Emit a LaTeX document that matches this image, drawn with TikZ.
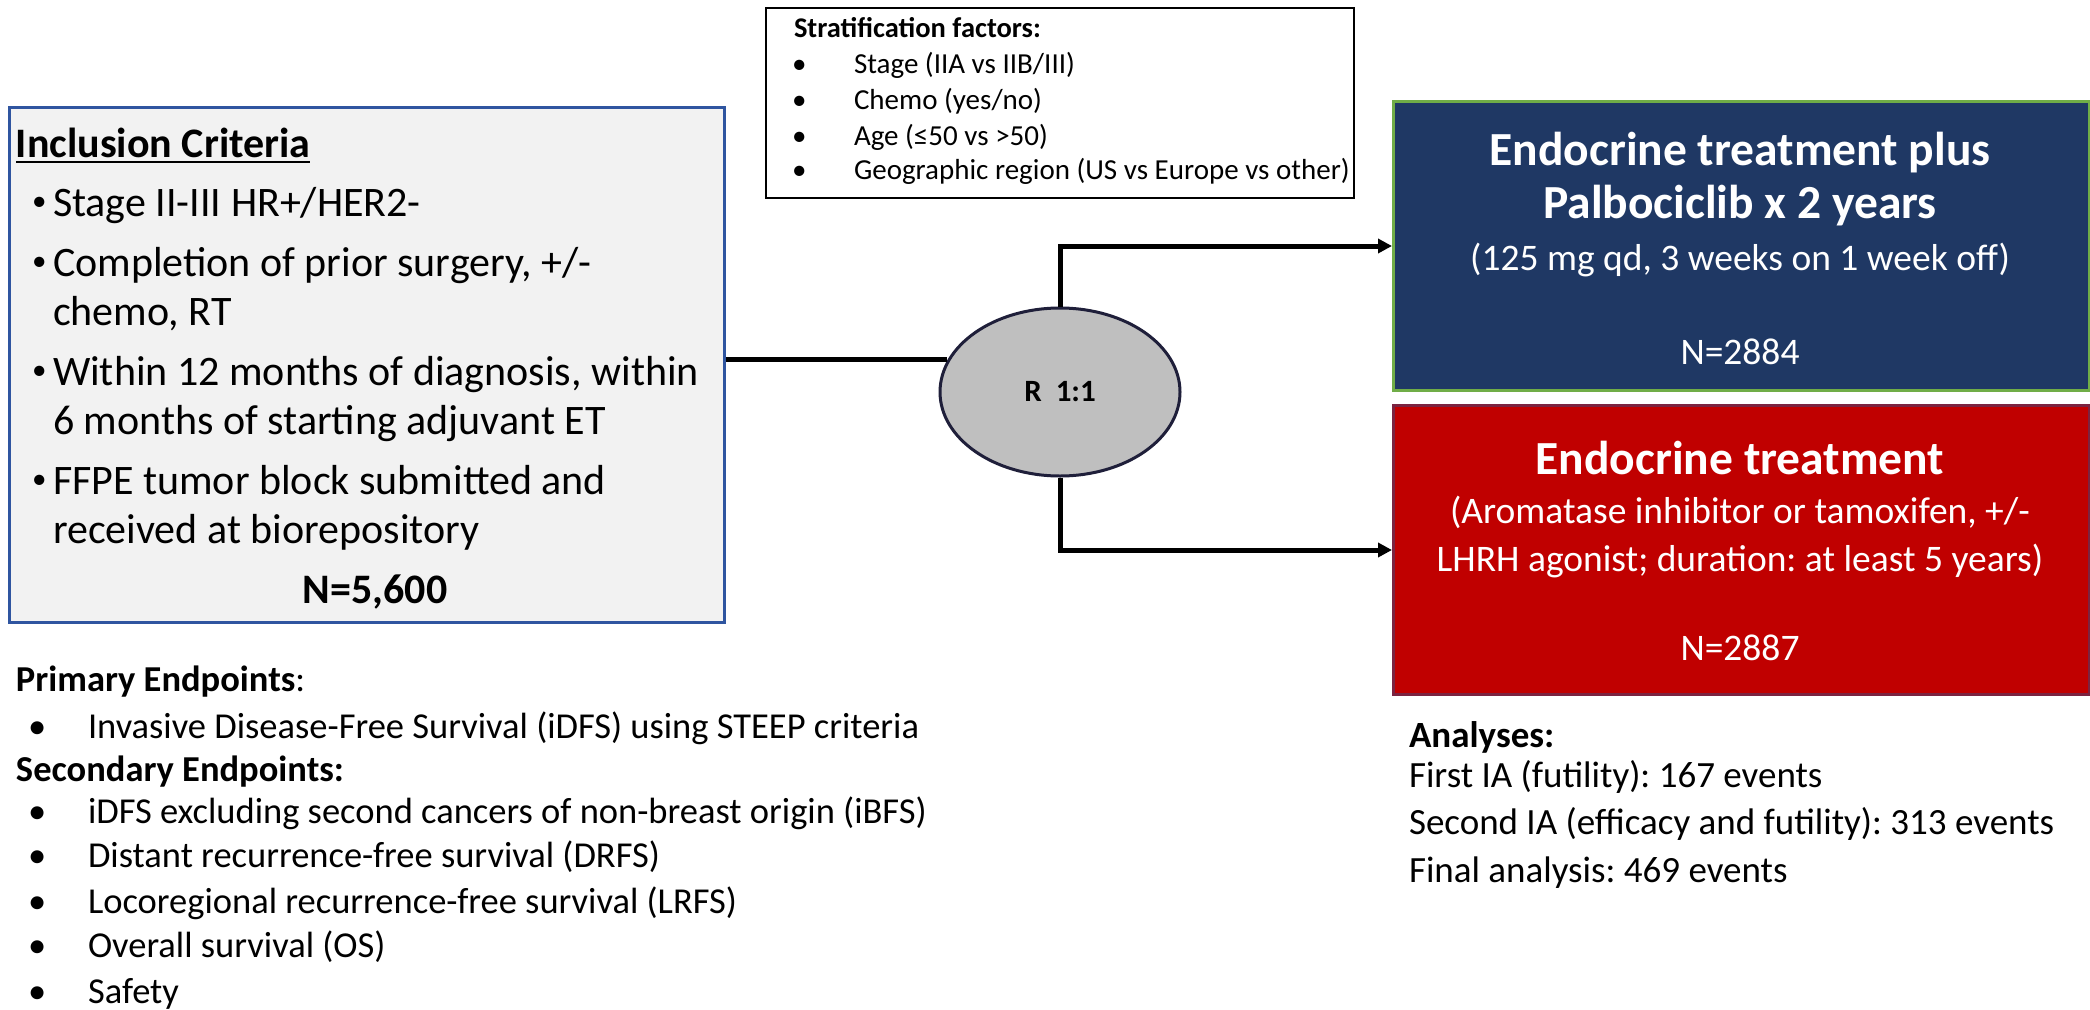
\documentclass[tikz,border=0pt]{standalone}
\usepackage{fontspec}
\setmainfont{Carlito}
\usetikzlibrary{arrows.meta,shapes.geometric}
\newcommand\fsz[2]{\fontsize{#1}{#2}\selectfont}
\definecolor{inclfill}{HTML}{F2F2F2}
\definecolor{inclline}{HTML}{2F55A0}
\definecolor{navy}{HTML}{1F3864}
\definecolor{grn}{HTML}{70AD47}
\definecolor{redbox}{HTML}{C00000}
\definecolor{redline}{HTML}{7B2340}
\definecolor{ellfill}{HTML}{BFBFBF}
\definecolor{ellline}{HTML}{1F1F3A}
\tikzset{
  txt/.style={inner sep=0pt, outer sep=0pt, anchor=base west},
  ctxt/.style={inner sep=0pt, outer sep=0pt, anchor=base, text=white},
  incltxt/.style={txt, font=\fsz{42}{50}},
  inclbul/.style={txt, font=\fsz{29}{29}},
  eptxt/.style={txt, font=\fsz{36.5}{44}},
  antxt/.style={txt, font=\fsz{37}{44}},
  sttxt/.style={txt, font=\fsz{29}{34}},
  armtitle/.style={ctxt, font=\fsz{47.5}{55}\bfseries},
  armsub/.style={ctxt, font=\fsz{37.5}{44}},
  conn/.style={line width=5pt, -{Triangle[length=14pt,width=14pt]}},
  plainconn/.style={line width=5pt},
}
\begin{document}
\frenchspacing
\begin{tikzpicture}[x=1pt,y=-1pt]
\useasboundingbox (0,0) rectangle (2090,1009);
\fill[white] (0,0) rectangle (2090,1009);

% Inclusion box
\node[draw=inclline, fill=inclfill, line width=2.5pt, anchor=north west,
      minimum width=715pt, minimum height=515pt, inner sep=0pt] (incl) at (8,106) {};
\node[txt, font=\fsz{42}{50}\bfseries] (ict) at (16,157) {Inclusion Criteria};
\draw[line width=2.5pt] ([yshift=-5pt]ict.base west) -- ([yshift=-5pt]ict.base east);
\node[inclbul] (ib1) at (32,210) {\textbullet};
\node[incltxt] (i1) at (53,216) {Stage II-III HR+/HER2-};
\node[inclbul] (ib2) at (32,270) {\textbullet};
\node[incltxt] (i2a) at (53,276) {Completion of prior surgery, +/-};
\node[incltxt] (i2b) at (53,325) {chemo, RT};
\node[inclbul] (ib3) at (32,379) {\textbullet};
\node[incltxt] (i3a) at (53,385) {Within 12 months of diagnosis, within};
\node[incltxt] (i3b) at (53,434) {6 months of starting adjuvant ET};
\node[inclbul] (ib4) at (32,488) {\textbullet};
\node[incltxt] (i4a) at (53,494) {FFPE tumor block submitted and};
\node[incltxt] (i4b) at (53,543) {received at biorepository};
\node[inner sep=0pt, anchor=base, font=\fsz{42}{50}\bfseries] (iN) at (375,603) {N=5,600};

% Stratification box
\node[draw=black, line width=2pt, anchor=north west, minimum width=588pt,
      minimum height=190pt, inner sep=0pt] (strat) at (765,7) {};
\node[sttxt, font=\fsz{28.5}{34}\bfseries] (st0) at (794,37) {Stratification factors:};
\node[sttxt] (sb1) at (792,73) {\textbullet};
\node[sttxt] (s1) at (854,73) {Stage (IIA vs IIB/III)};
\node[sttxt] (sb2) at (792,109) {\textbullet};
\node[sttxt] (s2) at (854,109) {Chemo (yes/no)};
\node[sttxt] (sb3) at (792,145) {\textbullet};
\node[sttxt] (s3) at (854,145) {Age (≤50 vs >50)};
\node[sttxt] (sb4) at (792,179) {\textbullet};
\node[sttxt] (s4) at (854,179) {Geographic region (US vs Europe vs other)};

% Randomisation ellipse
\node[ellipse, draw=ellline, fill=ellfill, line width=3pt, minimum width=240pt,
      minimum height=168pt, inner sep=0pt, font=\fsz{31}{36}\bfseries] (R) at (1060,392) {R\ \ 1:1};

% Arms
\node[draw=grn, fill=navy, line width=3pt, anchor=north west, minimum width=696pt,
      minimum height=289pt, inner sep=0pt] (blue) at (1392,100) {};
\node[armtitle] (b1) at (1740,165) {Endocrine treatment plus};
\node[armtitle] (b2) at (1740,218) {Palbociclib x 2 years};
\node[armsub] (b3) at (1740,270) {(125 mg qd, 3 weeks on 1 week off)};
\node[armsub] (b4) at (1740,364) {N=2884};

\node[draw=redline, fill=redbox, line width=3pt, anchor=north west, minimum width=696pt,
      minimum height=289pt, inner sep=0pt] (red) at (1392,404) {};
\node[armtitle] (r1) at (1740,474) {Endocrine treatment};
\node[armsub] (r2) at (1740,523) {(Aromatase inhibitor or tamoxifen, +/-};
\node[armsub] (r3) at (1740,571) {LHRH agonist; duration: at least 5 years)};
\node[armsub] (r4) at (1740,660) {N=2887};

% Connectors
\draw[plainconn] (R.164) -- (R.164 -| incl.east);
\draw[conn] (R.north) |- (blue.west);
\draw[conn] (R.south) |- (red.west);

% Analyses
\node[antxt, font=\fsz{37}{44}\bfseries] (a0) at (1409,747) {Analyses:};
\node[antxt] (a1) at (1409,787) {First IA (futility): 167 events};
\node[antxt] (a2) at (1409,834) {Second IA (efficacy and futility): 313 events};
\node[antxt] (a3) at (1409,882) {Final analysis: 469 events};

% Endpoints
\node[eptxt] (e0) at (16,691) {\textbf{Primary Endpoints}:};
\node[eptxt] (eb1) at (28,738) {\textbullet};
\node[eptxt] (e1) at (88,738) {Invasive Disease-Free Survival (iDFS) using STEEP criteria};
\node[eptxt, font=\fsz{36.5}{44}\bfseries] (e2) at (16,781) {Secondary Endpoints:};
\node[eptxt] (eb3) at (28,823) {\textbullet};
\node[eptxt] (e3) at (88,823) {iDFS excluding second cancers of non-breast origin (iBFS)};
\node[eptxt] (eb4) at (28,867) {\textbullet};
\node[eptxt] (e4) at (88,867) {Distant recurrence-free survival (DRFS)};
\node[eptxt] (eb5) at (28,913) {\textbullet};
\node[eptxt] (e5) at (88,913) {Locoregional recurrence-free survival (LRFS)};
\node[eptxt] (eb6) at (28,957) {\textbullet};
\node[eptxt] (e6) at (88,957) {Overall survival (OS)};
\node[eptxt] (eb7) at (28,1003) {\textbullet};
\node[eptxt] (e7) at (88,1003) {Safety};
\end{tikzpicture}
\end{document}
